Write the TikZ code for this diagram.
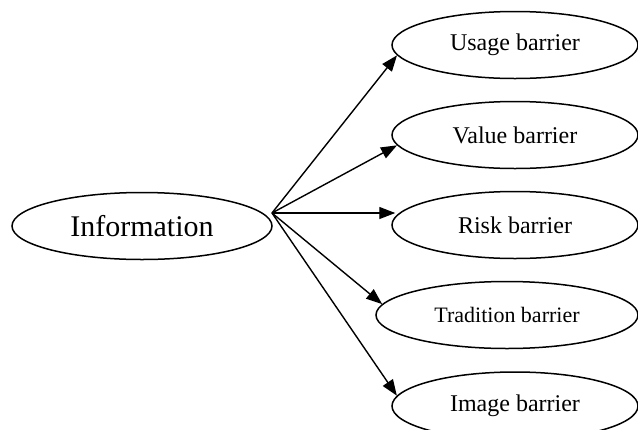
\documentclass[tikz,border=0pt]{standalone}
\usepackage{fontspec}
\setmainfont{Liberation Serif}
\usetikzlibrary{arrows.meta,shapes.geometric}
\begin{document}
\begin{tikzpicture}[x=1pt,y=-1pt,
  oval/.style={draw, ellipse, line width=1.5pt, inner sep=0pt,
    minimum width=246pt, minimum height=67pt, font=\fontsize{24}{26}\selectfont},
  conn/.style={line width=1.4pt, -{Triangle[length=16pt,width=12pt]}}]
\useasboundingbox (0,0) rectangle (638,429);
\node[oval, minimum width=260pt, minimum height=67pt, font=\fontsize{30}{32}\selectfont] (info) at (142,226) {Information};
\node[oval] (usage) at (515,45) {Usage barrier};
\node[oval] (value) at (515,135) {Value barrier};
\node[oval] (risk) at (515,225) {Risk barrier};
\node[oval, minimum width=262pt, font=\fontsize{22}{24}\selectfont] (trad) at (507,315) {Tradition barrier};
\node[oval, minimum height=68pt] (image) at (515,406) {Image barrier};
\coordinate (src) at (272,213);
\draw[conn] (src) -- (usage.185);
\draw[conn] (src) -- (value.185);
\draw[conn] (src) -- ([xshift=4pt]src -| risk.west);
\draw[conn] (src) -- (trad.175);
\draw[conn] (src) -- (image.175);
\end{tikzpicture}
\end{document}
